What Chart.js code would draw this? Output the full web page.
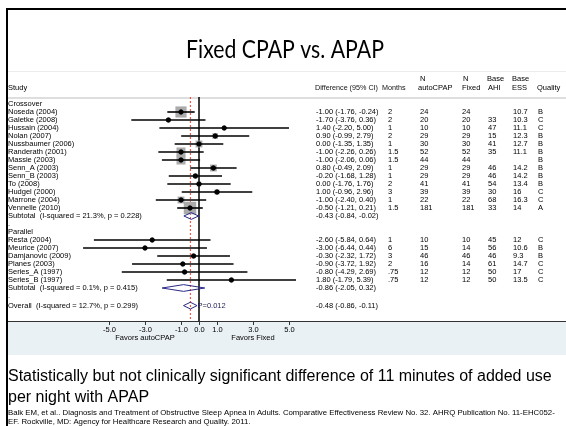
<!DOCTYPE html>
<html>
<head>
<meta charset="utf-8">
<title>Fixed CPAP vs. APAP</title>
<script src="https://cdn.jsdelivr.net/npm/chart.js@4.4.1/dist/chart.umd.min.js"></script>
<style>
  html, body { margin: 0; padding: 0; background: #fff; }
  #wrap { width: 566px; height: 426px; }
</style>
</head>
<body>
<div id="wrap"><canvas id="forestChart" width="566" height="426"></canvas></div>
<script>
// Données du forest plot (différence d'utilisation, heures/nuit)
const groupNames = ['Crossover', 'Parallel'];
const groupSizes = [13, 6];

const studies = ['Noseda (2004)', 'Galetke (2008)', 'Hussain (2004)', 'Nolan (2007)', 'Nussbaumer (2006)',
  'Randerath (2001)', 'Massie (2003)', 'Senn_A (2003)', 'Senn_B (2003)', 'To (2008)', 'Hudgel (2000)',
  'Marrone (2004)', 'Vennelle (2010)',
  'Resta (2004)', 'Meurice (2007)', 'Damjanovic (2009)', 'Planes (2003)', 'Series_A (1997)', 'Series_B (1997)'];
const estimates = [-1.00, -1.70, 1.40, 0.90, 0.00, -1.00, -1.00, 0.80, -0.20, 0.00, 1.00, -1.00, -0.50,
  -2.60, -3.00, -0.30, -0.90, -0.80, 1.80];
const ciLow = [-1.76, -3.76, -2.20, -0.99, -1.35, -2.26, -2.06, -0.49, -1.68, -1.76, -0.96, -2.40, -1.21,
  -5.84, -6.44, -2.32, -3.72, -4.29, -1.79];
const ciHigh = [-0.24, 0.36, 5.00, 2.79, 1.35, 0.26, 0.06, 2.09, 1.28, 1.76, 2.96, 0.40, 0.21,
  0.64, 0.44, 1.72, 1.92, 2.69, 5.39];
const weights = [20, 2, 1, 5, 7.5, 13, 13, 7.5, 3.3, 3.3, 4, 7.5, 25,
  0.6, 0.5, 1.5, 0.8, 0.5, 0.5];
const months = ['2', '2', '1', '2', '1', '1.5', '1.5', '1', '1', '2', '3', '1', '1.5',
  '1', '6', '3', '2', '.75', '.75'];
const nAuto = ['24', '20', '10', '29', '30', '52', '44', '29', '29', '41', '39', '22', '181',
  '10', '15', '46', '16', '12', '12'];
const nFixed = ['24', '20', '10', '29', '30', '52', '44', '29', '29', '41', '39', '22', '181',
  '10', '14', '46', '14', '12', '12'];
const baseAHI = ['', '33', '47', '15', '41', '35', '', '46', '46', '54', '30', '68', '33',
  '45', '56', '46', '61', '50', '50'];
const baseESS = ['10.7', '10.3', '11.1', '12.3', '12.7', '11.1', '', '14.2', '14.2', '13.4', '16', '16.3', '14',
  '12', '10.6', '9.3', '14.7', '17', '13.5'];
const quality = ['B', 'C', 'C', 'B', 'B', 'B', 'B', 'B', 'B', 'B', 'C', 'C', 'A',
  'C', 'B', 'B', 'C', 'C', 'C'];

const subtotalLabels = ['Subtotal  (I-squared = 21.3%, p = 0.228)', 'Subtotal  (I-squared = 0.1%, p = 0.415)'];
const subtotalEst = [-0.43, -0.86];
const subtotalLow = [-0.84, -2.05];
const subtotalHigh = [-0.02, 0.32];

const overallLabel = 'Overall  (I-squared = 12.7%, p = 0.299)';
const overallEst = -0.48;
const overallLow = -0.86;
const overallHigh = -0.11;
const overallP = 'P=0.012';

const xTicks = [-5, -3, -1, 0, 1, 3, 5];
const xTickLabels = ['-5.0', '-3.0', '-1.0', '0.0', '1.0', '3.0', '5.0'];
const favorLabels = ['Favors autoCPAP', 'Favors Fixed'];
const favorAt = [-3, 3];

// Mise en page des lignes
const FONT = "'Liberation Sans', Arial, sans-serif";
const navy = '#2a2a86';
const rows = [];
let r = 0, k = 0;
groupNames.forEach((g, gi) => {
  rows.push({ row: r++, text: g, kind: 'head' });
  for (let j = 0; j < groupSizes[gi]; j++) rows.push({ row: r++, kind: 'study', idx: k++ });
  rows.push({ row: r++, kind: 'sub', idx: gi });
  rows.push({ row: r++, text: '.', kind: 'dot' });
});
const overallRow = r + 0.2;
const studyRows = rows.filter(o => o.kind === 'study').map(o => o.row);
const subRows = rows.filter(o => o.kind === 'sub').map(o => o.row);

function fmt(e, lo, hi) {
  return e.toFixed(2) + ' (' + lo.toFixed(2) + ', ' + hi.toFixed(2) + ')';
}

function diamond(lo, est, hi, y) {
  const h = 0.42;
  return {
    type: 'line',
    data: [{ x: lo, y: y }, { x: est, y: y - h }, { x: hi, y: y }, { x: est, y: y + h }, { x: lo, y: y }],
    borderColor: navy, borderWidth: 1, pointRadius: 0, tension: 0, fill: false, order: 1
  };
}

const datasets = [];

// Points (estimations)
datasets.push({
  type: 'scatter',
  data: estimates.map((e, i) => ({ x: e, y: studyRows[i] })),
  backgroundColor: '#000', borderColor: '#000', pointRadius: 2.2, pointStyle: 'circle', order: 0
});

// Losanges
subtotalEst.forEach((e, i) => datasets.push(diamond(subtotalLow[i], e, subtotalHigh[i], subRows[i])));
datasets.push(diamond(overallLow, overallEst, overallHigh, overallRow));

// Intervalles de confiance
estimates.forEach((e, i) => {
  datasets.push({
    type: 'line',
    data: [{ x: ciLow[i], y: studyRows[i] }, { x: ciHigh[i], y: studyRows[i] }],
    borderColor: '#000', borderWidth: 1.6, pointRadius: 0, order: 2
  });
});

// Carrés de poids
datasets.push({
  type: 'scatter',
  data: estimates.map((e, i) => ({ x: e, y: studyRows[i] })),
  backgroundColor: '#ababab', borderWidth: 0, pointStyle: 'rect',
  pointRadius: ctx => 2.5 * Math.sqrt(weights[ctx.dataIndex]) / 1.414, order: 4
});

// Lignes verticales : zéro et effet global
datasets.push({
  type: 'line', data: [{ x: 0, y: -0.875 }, { x: 0, y: 27.125 }],
  borderColor: '#222', borderWidth: 1, pointRadius: 0, order: 5
});
datasets.push({
  type: 'line', data: [{ x: overallEst, y: -0.875 }, { x: overallEst, y: 27.125 }],
  borderColor: '#c0504d', borderWidth: 1, borderDash: [2, 2], pointRadius: 0, order: 5
});

const decorPlugin = {
  id: 'decor',
  beforeDraw(chart) {
    const c = chart.ctx;
    c.save();
    c.fillStyle = '#fff';
    c.fillRect(0, 0, chart.width, chart.height);
    // fond bleuté de l'axe
    c.fillStyle = '#eaf1f4';
    c.fillRect(8, 322, 558, 33);
    c.fillStyle = '#ececec';
    c.fillRect(8, 71, 558, 1);
    c.fillStyle = '#dedede';
    c.fillRect(8, 97, 558, 2);
    // bordures de la diapositive
    c.fillStyle = '#000';
    c.fillRect(6, 8, 2, 418);
    c.fillRect(6, 8, 560, 2);
    c.restore();
  },
  afterDraw(chart) {
    const c = chart.ctx;
    const xs = chart.scales.x, ys = chart.scales.y;
    c.save();

    // Titre (police étroite type Gill Sans)
    c.fillStyle = '#000';
    c.textAlign = 'center';
    c.textBaseline = 'alphabetic';
    c.save();
    c.translate(285, 58);
    c.scale(0.85, 1);
    c.font = "25px Lato, 'Open Sans', sans-serif";
    c.fillText('Fixed CPAP vs. APAP', 0, 0);
    c.restore();

    // En-têtes
    c.textAlign = 'left';
    c.textBaseline = 'middle';
    c.font = '7.5px ' + FONT;
    c.fillText('Study', 8, 88);
    c.fillText('N', 420, 79); c.fillText('autoCPAP', 418, 88);
    c.fillText('N', 463, 79); c.fillText('Fixed', 462, 88);
    c.fillText('Base', 487, 79); c.fillText('AHI', 488, 88);
    c.fillText('Base', 512, 79); c.fillText('ESS', 512, 88);
    c.fillText('Quality', 537, 88);
    c.fillStyle = '#111';
    c.font = '7.2px ' + FONT;
    c.fillText('Difference (95% CI)', 315, 88);
    c.fillText('Months', 382, 88);
    c.font = '7.5px ' + FONT;
    c.fillStyle = '#000';

    // Lignes du tableau
    rows.forEach(o => {
      const y = ys.getPixelForValue(o.row);
      if (o.kind === 'head' || o.kind === 'dot') {
        c.fillText(o.text, 8, y);
      } else if (o.kind === 'study') {
        const i = o.idx;
        c.fillText(studies[i], 8, y);
        c.fillText(fmt(estimates[i], ciLow[i], ciHigh[i]), 316, y);
        c.fillText(months[i], 388, y);
        c.fillText(nAuto[i], 420, y);
        c.fillText(nFixed[i], 462, y);
        c.fillText(baseAHI[i], 488, y);
        c.fillText(baseESS[i], 513, y);
        c.fillText(quality[i], 538, y);
      } else if (o.kind === 'sub') {
        const i = o.idx;
        c.fillText(subtotalLabels[i], 8, y);
        c.fillText(fmt(subtotalEst[i], subtotalLow[i], subtotalHigh[i]), 316, y);
      }
    });
    const yo = ys.getPixelForValue(overallRow);
    c.fillText(overallLabel, 8, yo);
    c.fillText(fmt(overallEst, overallLow, overallHigh), 316, yo);
    c.fillStyle = '#1e1e50';
    c.fillText(overallP, xs.getPixelForValue(overallHigh) + 0.5, yo);

    // Axe des x
    c.fillStyle = '#333';
    c.fillRect(8, 321, 558, 1);
    c.strokeStyle = '#333';
    c.lineWidth = 1;
    c.fillStyle = '#000';
    c.textAlign = 'center';
    xTicks.forEach((t, i) => {
      const x = Math.round(xs.getPixelForValue(t)) + 0.5;
      c.beginPath(); c.moveTo(x, 322); c.lineTo(x, 325); c.stroke();
      c.fillText(xTickLabels[i], x, 330);
    });
    favorLabels.forEach((t, i) => c.fillText(t, xs.getPixelForValue(favorAt[i]), 338));

    // Texte de la diapositive
    c.textAlign = 'left';
    c.textBaseline = 'alphabetic';
    c.font = '16px ' + FONT;
    c.fillText('Statistically but not clinically significant difference of 11 minutes of added use', 8, 381);
    c.fillText('per night with APAP', 8, 402);
    c.font = '7.8px ' + FONT;
    c.fillText('Balk EM, et al.. Diagnosis and Treatment of Obstructive Sleep Apnea in Adults. Comparative Effectiveness Review No. 32. AHRQ Publication No. 11-EHC052-', 8, 415);
    c.fillText('EF. Rockville, MD: Agency for Healthcare Research and Quality. 2011.', 8, 424);
    c.restore();
  }
};

const chart = new Chart(document.getElementById('forestChart'), {
  data: { datasets: datasets },
  options: {
    responsive: false,
    animation: false,
    layout: { padding: { left: 82, right: 268, top: 97, bottom: 105 } },
    scales: {
      x: { type: 'linear', min: -6.5, max: 5.5, display: false },
      y: { type: 'linear', min: -0.875, max: 27.125, reverse: true, display: false }
    },
    plugins: { legend: { display: false }, tooltip: { enabled: false } }
  },
  plugins: [decorPlugin]
});
</script>
</body>
</html>
